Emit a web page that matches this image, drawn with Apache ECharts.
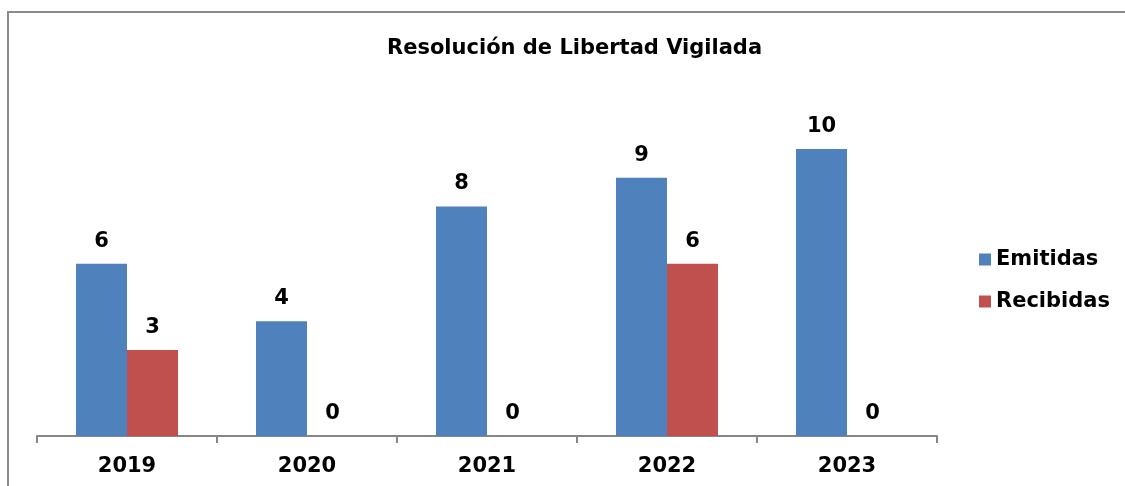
<!DOCTYPE html>
<html>
<head>
<meta charset="utf-8">
<script src="https://cdn.jsdelivr.net/npm/echarts@6/dist/echarts.min.js"></script>
<style>
  html, body { margin: 0; padding: 0; background: #fff; }
  #chart { width: 1125px; height: 486px; }
</style>
</head>
<body>
<div id="chart"></div>
<script>
const titleText = 'Resolución de Libertad Vigilada';
const years = ['2019', '2020', '2021', '2022', '2023'];
const emitidas = [6, 4, 8, 9, 10];
const recibidas = [3, 0, 0, 6, 0];

const fontFamily = '"DejaVu Sans", Verdana, sans-serif';

function barSeries(name, data, color) {
  return {
    name: name,
    type: 'bar',
    data: data,
    barWidth: 51,
    barGap: '0%',
    itemStyle: { color: color, borderWidth: 0 },
    label: {
      show: true,
      position: 'top',
      distance: 12,
      color: '#000',
      fontFamily: fontFamily,
      fontWeight: 'bold',
      fontSize: 21
    }
  };
}

const chart = echarts.init(document.getElementById('chart'), null, { renderer: 'canvas' });
chart.setOption({
  animation: false,
  backgroundColor: '#fff',
  title: {
    text: titleText,
    left: 382,
    top: 33,
    textStyle: { fontFamily: fontFamily, fontWeight: 'bold', fontSize: 21, color: '#000' }
  },
  graphic: [{
    type: 'rect',
    shape: { x: 8, y: 12, width: 1300, height: 700 },
    style: { fill: 'none', stroke: '#8c8c8c', lineWidth: 2 },
    silent: true
  }],
  legend: {
    orient: 'vertical',
    left: 974,
    top: 244,
    itemWidth: 12,
    itemHeight: 12,
    itemGap: 21,
    icon: 'rect',
    itemStyle: { borderWidth: 0 },
    textStyle: { fontFamily: fontFamily, fontWeight: 'bold', fontSize: 21, color: '#000' },
    data: ['Emitidas', 'Recibidas']
  },
  grid: { left: 37, right: 188, top: 91.6, bottom: 50 },
  xAxis: {
    type: 'category',
    data: years,
    boundaryGap: true,
    axisLine: { lineStyle: { color: '#868686', width: 2 } },
    axisTick: { show: true, length: 7, lineStyle: { color: '#868686', width: 2 } },
    axisLabel: { margin: 20, color: '#000', fontFamily: fontFamily, fontWeight: 'bold', fontSize: 21 }
  },
  yAxis: {
    type: 'value',
    min: 0,
    max: 12,
    interval: 2,
    show: false,
    splitLine: { show: false }
  },
  series: [
    barSeries('Emitidas', emitidas, '#4F81BD'),
    barSeries('Recibidas', recibidas, '#C0504D')
  ]
});
</script>
</body>
</html>
